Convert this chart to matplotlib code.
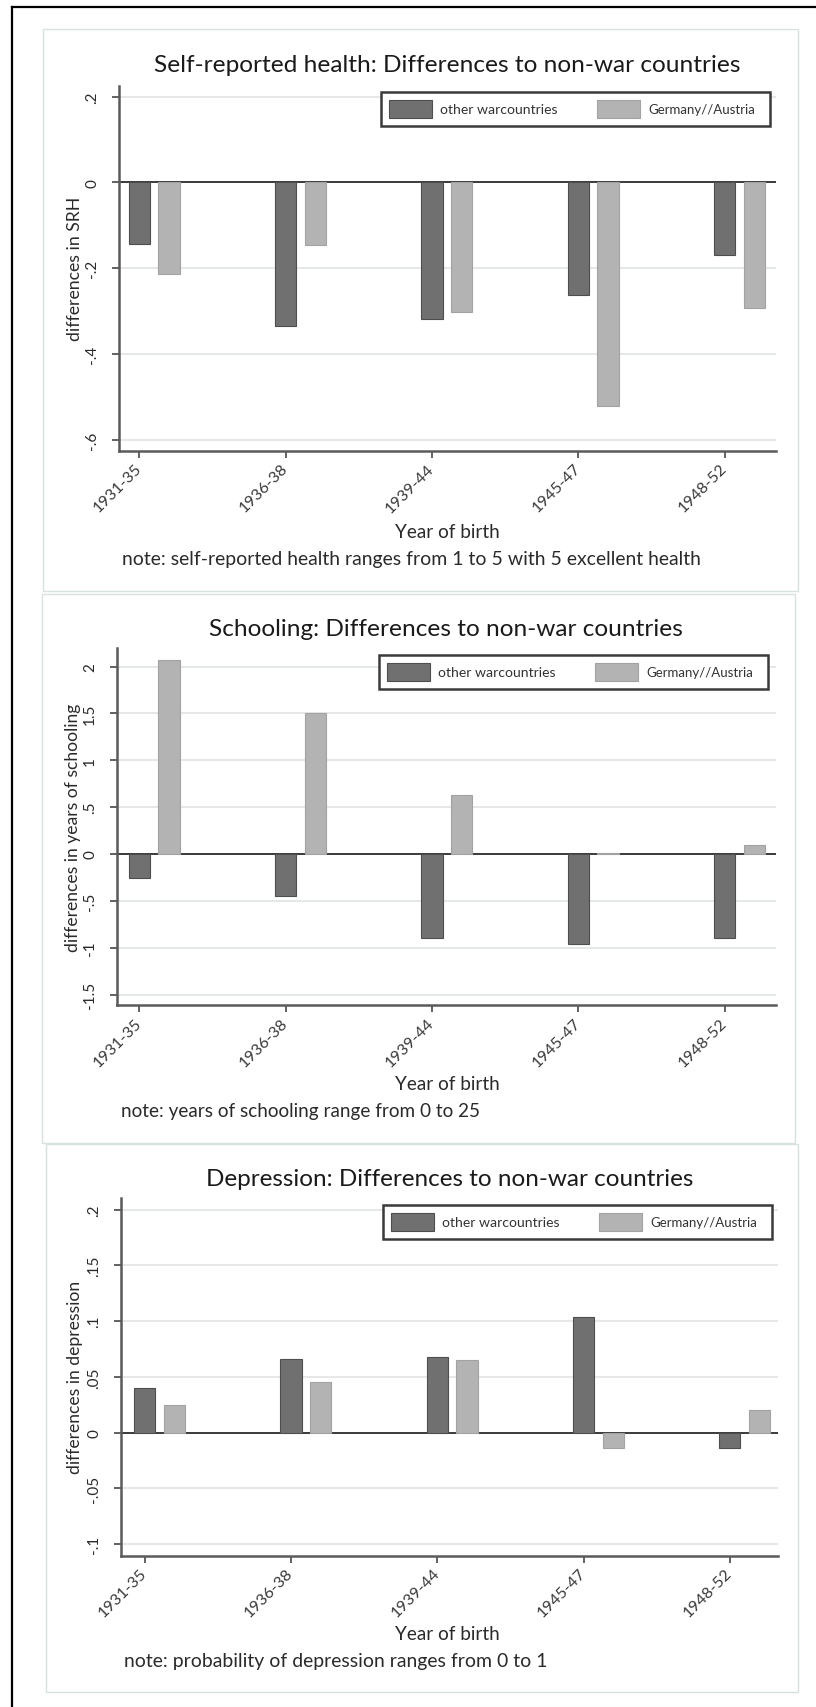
import matplotlib
matplotlib.use("Agg")
import matplotlib.pyplot as plt
from matplotlib.patches import Rectangle
from matplotlib.lines import Line2D
import numpy as np

# ---------------- data ----------------
categories = ['1931-35', '1936-38', '1939-44', '1945-47', '1948-52']
series_names = ['other warcountries', 'Germany//Austria']

srh_other = [-0.144, -0.334, -0.319, -0.262, -0.169]
srh_germany = [-0.213, -0.147, -0.301, -0.522, -0.292]

school_other = [-0.26, -0.445, -0.897, -0.96, -0.897]
school_germany = [2.07, 1.50, 0.63, 0.01, 0.10]

dep_other = [0.040, 0.066, 0.068, 0.104, -0.014]
dep_germany = [0.025, 0.045, 0.065, -0.014, 0.020]

srh_ticks = [0.2, 0.0, -0.2, -0.4, -0.6]
srh_ticklabels = ['.2', '0', '-.2', '-.4', '-.6']
school_ticks = [2, 1.5, 1, 0.5, 0, -0.5, -1, -1.5]
school_ticklabels = ['2', '1.5', '1', '.5', '0', '-.5', '-1', '-1.5']
dep_ticks = [0.2, 0.15, 0.1, 0.05, 0.0, -0.05, -0.1]
dep_ticklabels = ['.2', '.15', '.1', '.05', '0', '-.05', '-.1']

titles = ['Self-reported health: Differences to non-war countries',
          'Schooling: Differences to non-war countries',
          'Depression: Differences to non-war countries']
ylabels = ['differences in SRH', 'differences in years of schooling',
           'differences in depression']
xlabel = 'Year of birth'
notes = ['note: self-reported health ranges from 1 to 5 with 5 excellent health',
         'note: years of schooling range from 0 to 25',
         'note: probability of depression ranges from 0 to 1']

# ---------------- layout / style ----------------
W, H = 816, 1708
DPI = 100
FONT = ['Lato', 'DejaVu Sans']
plt.rcParams['font.family'] = FONT

DARK = '#707070'
DARK_EDGE = '#4e4e4e'
LIGHT = '#b3b3b3'
LIGHT_EDGE = '#a2a2a2'
TXT = '#2a2a2a'

fig = plt.figure(figsize=(W / DPI, H / DPI), dpi=DPI)
fig.patch.set_facecolor('white')
renderer = fig.canvas.get_renderer()


def fx(x):
    return x / W


def fy(y):
    return 1 - y / H


def fit_text(t, target, use_height=False):
    bb = t.get_window_extent(renderer)
    cur = bb.height if use_height else bb.width
    t.set_fontsize(t.get_fontsize() * target / cur)


# panel geometry (pixels)
panels = [
    dict(frame=(43, 30, 798, 592), ax=(118.6, 87, 776, 451.6), tick0=139.4,
         ylim=(-0.625, 0.2246), legend=(381, 93, 770, 127),
         title_xy=(447, 65), title_w=584, ylab_x=75.4, ylab_w=144,
         xlab_y=532, note_xy=(122, 559.5), note_w=578),
    dict(frame=(42, 595, 795, 1144), ax=(116.5, 649, 775.5, 1006.4), tick0=139.4,
         ylim=(-1.616, 2.198), legend=(379, 656, 768, 690),
         title_xy=(446, 629), title_w=472, ylab_x=73, ylab_w=247,
         xlab_y=1084.5, note_xy=(121, 1111.5), note_w=358),
    dict(frame=(46, 1145, 798, 1693), ax=(120.7, 1198.7, 778, 1556.5), tick0=144.6,
         ylim=(-0.1103, 0.2107), legend=(383, 1206, 771.6, 1239.6),
         title_xy=(449.5, 1179), title_w=488, ylab_x=75.4, ylab_w=192,
         xlab_y=1634.4, note_xy=(124, 1661.5), note_w=421),
]
SPACING = 146.3
BAR_W = 0.145
OFFSET = 0.203

datasets = [
    (srh_other, srh_germany, srh_ticks, srh_ticklabels),
    (school_other, school_germany, school_ticks, school_ticklabels),
    (dep_other, dep_germany, dep_ticks, dep_ticklabels),
]

# outer frame lines (top and left)
fig.add_artist(Line2D([fx(11.5), fx(816)], [fy(7.5), fy(7.5)], color='black', lw=1.6))
fig.add_artist(Line2D([fx(11.5), fx(11.5)], [fy(7.5), fy(1708)], color='black', lw=1.6))

for p, (v_other, v_ger, yt, ytl), title, ylab, note in zip(panels, datasets, titles, ylabels, notes):
    # panel frame
    x0, y0, x1, y1 = p['frame']
    fig.add_artist(Rectangle((fx(x0), fy(y1)), fx(x1 - x0), (y1 - y0) / H,
                             fill=False, edgecolor='#d9e2e2', lw=1.0))

    l, t, r, b = p['ax']
    ax = fig.add_axes([fx(l), fy(b), fx(r - l), (b - t) / H])
    ax.set_facecolor('none')
    xpos = np.arange(len(categories))
    ax.set_xlim((l - p['tick0']) / SPACING, (r - p['tick0']) / SPACING)
    ax.set_ylim(*p['ylim'])

    # gridlines and zero line
    for v in yt:
        if v == 0:
            ax.axhline(0, color='#3a3a3a', lw=1.4, zorder=2)
        else:
            ax.axhline(v, color='#e6e8e8', lw=1.5, zorder=1)

    ax.bar(xpos, v_other, width=BAR_W, color=DARK, edgecolor=DARK_EDGE, lw=0.8, zorder=3)
    ax.bar(xpos + OFFSET, v_ger, width=BAR_W, color=LIGHT, edgecolor=LIGHT_EDGE, lw=0.8, zorder=3)

    ax.set_yticks(yt)
    ax.set_yticklabels(ytl, rotation=90, va='center', fontsize=11, color=TXT)
    ax.set_xticks(xpos)
    ax.set_xticklabels(categories, rotation=45, ha='right', va='center',
                       rotation_mode='anchor', fontsize=11.5, color='#3a3a3a')
    ax.tick_params(axis='y', length=5, width=1.3, color='#555555', pad=9)
    ax.tick_params(axis='x', length=5, width=1.3, color='#555555', pad=6)
    for s in ['top', 'right']:
        ax.spines[s].set_visible(False)
    for s in ['left', 'bottom']:
        ax.spines[s].set_color('#5a5a5a')
        ax.spines[s].set_linewidth(1.8)

    # title
    tt = fig.text(fx(p['title_xy'][0]), fy(p['title_xy'][1]), title, ha='center', va='center',
                  fontsize=17, color='#1a1a1a')
    fit_text(tt, p['title_w'])
    # y label
    yl = fig.text(fx(p['ylab_x']), fy((t + b) / 2), ylab, rotation=90, ha='center', va='center',
                  fontsize=11, color=TXT)
    fit_text(yl, p['ylab_w'], use_height=True)
    # x label
    xl = fig.text(fx(447), fy(p['xlab_y']), xlabel, ha='center', va='center', fontsize=12, color=TXT)
    fit_text(xl, 104)
    # note
    nt = fig.text(fx(p['note_xy'][0]), fy(p['note_xy'][1]), note, ha='left', va='center',
                  fontsize=12, color=TXT)
    fit_text(nt, p['note_w'])

    # legend (drawn manually)
    lx0, ly0, lx1, ly1 = p['legend']
    fig.add_artist(Rectangle((fx(lx0), fy(ly1)), fx(lx1 - lx0), (ly1 - ly0) / H,
                             facecolor='white', edgecolor='#3a3a3a', lw=1.8, zorder=5))
    for k, (name, fc, ec) in enumerate(zip(series_names, [DARK, LIGHT], [DARK_EDGE, LIGHT_EDGE])):
        px = lx0 + 8 + k * 208
        fig.add_artist(Rectangle((fx(px), fy(ly0 + 26)), fx(43), 18 / H,
                                 facecolor=fc, edgecolor=ec, lw=0.8, zorder=6))
        lt = fig.text(fx(px + 51), fy((ly0 + ly1) / 2), name, ha='left', va='center',
                      fontsize=9, color='#333333', zorder=6)
        fit_text(lt, 118 if k == 0 else 107)

fig.savefig('out.png', dpi=DPI, facecolor='white')
